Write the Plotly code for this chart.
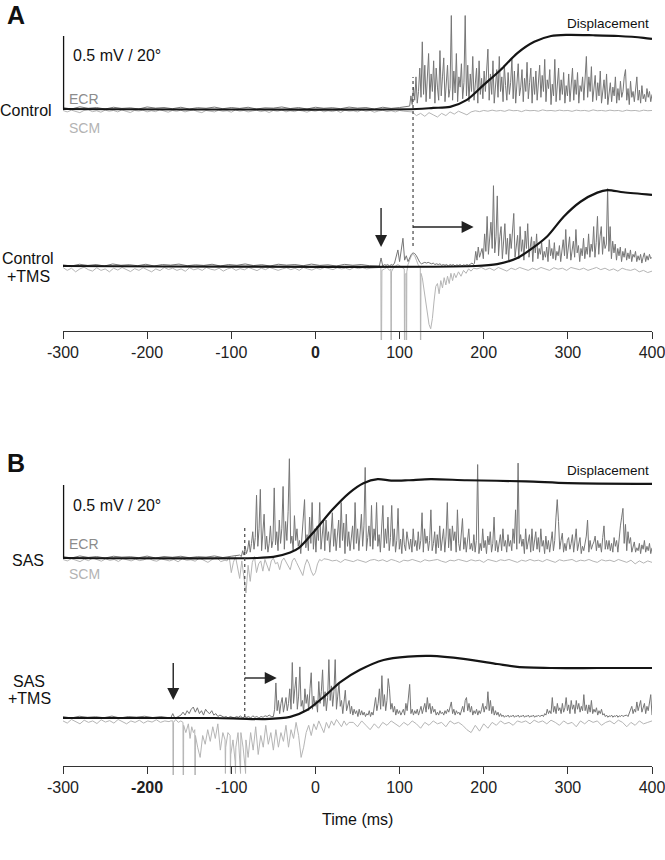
import numpy as np
import plotly.graph_objects as go

# ---------------- data (time in ms, EMG in mV, displacement in degrees) ----------------
tick_vals = [-300, -200, -100, 0, 100, 200, 300, 400]
tick_text_A = ["-300", "-200", "-100", "<b>0</b>", "100", "200", "300", "400"]
tick_text_B = ["-300", "<b>-200</b>", "-100", "0", "100", "200", "300", "400"]

# event times
onset_A = 116          # control EMG onset (dotted line)
tms_A = 78             # TMS pulse (down arrow)
shift_end_A = 188      # delayed onset after TMS (arrow tip)
onset_B = -84          # SAS EMG onset
tms_B = -169
shift_end_B = -46

# ---- Panel A, Control ----
ecr_ctrl_base = [0.01, 0.0, 0.015, 0.005, 0.01, 0.0, 0.012, 0.004, 0.008, 0.0, 0.014, 0.006, 0.01, 0.002,
                 0.012, 0.0, 0.009, 0.005, 0.013, 0.002, 0.01, 0.004, 0.012, 0.0, 0.008, 0.006, 0.014, 0.003,
                 0.01, 0.0, 0.012, 0.005, 0.009, 0.002, 0.013, 0.006, 0.01, 0.0, 0.012, 0.004, 0.01, 0.02]
ecr_ctrl_burst = [0.02, 0.09, 0.03, 0.15, 0.06, 0.22, 0.04, 0.12, 0.28, 0.08,
                  0.46, 0.10, 0.30, 0.05, 0.18, 0.38, 0.07, 0.24, 0.12, 0.33,
                  0.04, 0.28, 0.15, 0.06, 0.40, 0.09, 0.22, 0.35, 0.05, 0.19,
                  0.30, 0.08, 0.14, 0.64, 0.06, 0.26, 0.11, 0.38, 0.05, 0.22,
                  0.15, 0.31, 0.07, 0.18, 0.64, 0.09, 0.30, 0.05, 0.24, 0.12,
                  0.36, 0.06, 0.20, 0.28, 0.04, 0.33, 0.10, 0.21, 0.07, 0.26,
                  0.12, 0.30, 0.41, 0.06, 0.24, 0.10, 0.33, 0.04, 0.18, 0.27,
                  0.08, 0.36, 0.12, 0.22, 0.05, 0.30, 0.16, 0.06, 0.25, 0.10,
                  0.18, 0.34, 0.07, 0.26, 0.04, 0.20, 0.31, 0.09, 0.15, 0.27,
                  0.05, 0.21, 0.12, 0.32, 0.07, 0.18, 0.28, 0.04, 0.22, 0.10,
                  0.26, 0.06, 0.19, 0.30, 0.08, 0.23, 0.12, 0.34, 0.05, 0.20,
                  0.14, 0.27, 0.03, 0.17, 0.09, 0.34, 0.05, 0.15, 0.28, 0.06,
                  0.20, 0.10, 0.25, 0.04, 0.16, 0.09, 0.24, 0.05, 0.15, 0.28,
                  0.06, 0.20, 0.10, 0.25, 0.04, 0.16, 0.12, 0.22, 0.06, 0.18,
                  0.36, 0.08, 0.22, 0.12, 0.29, 0.05, 0.14, 0.23, 0.06, 0.18,
                  0.09, 0.26, 0.04, 0.13, 0.20, 0.07, 0.24, 0.03, 0.12, 0.18,
                  0.05, 0.15, 0.09, 0.22, 0.04, 0.14, 0.06, 0.19, 0.08, 0.12,
                  0.22, 0.27, 0.06, 0.14, 0.03, 0.19, 0.08, 0.12, 0.05, 0.17,
                  0.22, 0.06, 0.13, 0.04, 0.16, 0.07, 0.10, 0.05, 0.14, 0.08,
                  0.12, 0.05, 0.10]
scm_ctrl = [-0.01, -0.02, -0.008, -0.015, -0.025, -0.01, -0.005, -0.018, -0.012, -0.022, -0.008, -0.015, -0.01,
            -0.02, -0.006, -0.016, -0.024, -0.01, -0.014, -0.008, -0.02, -0.012, -0.018, -0.005, -0.015, -0.022,
            -0.01, -0.016, -0.008, -0.02, -0.012, -0.006, -0.018, -0.025, -0.01, -0.014, -0.02, -0.008, -0.016,
            -0.012, -0.022, -0.006, -0.015, -0.01, -0.02, -0.014, -0.008, -0.018, -0.012, -0.024, -0.01, -0.016,
            -0.006, -0.02, -0.012, -0.018, -0.008, -0.014, -0.022, -0.01, -0.016, -0.006, -0.02, -0.012, -0.018,
            -0.01, -0.024, -0.008, -0.015, -0.012, -0.02, -0.006, -0.016, -0.01, -0.022, -0.014, -0.008, -0.018,
            -0.012, -0.02, -0.01, -0.015, -0.02,
            -0.02, -0.045, -0.03, -0.05, -0.025, -0.04, -0.055, -0.03, -0.045, -0.02, -0.035, -0.015, -0.03,
            -0.04, -0.02, -0.012, -0.018, -0.01, -0.015, -0.008, -0.014, -0.01, -0.016, -0.006, -0.012, -0.01,
            -0.018, -0.008, -0.012, -0.01, -0.015, -0.006, -0.012, -0.01, -0.014, -0.008, -0.012, -0.01, -0.016,
            -0.008, -0.012, -0.01, -0.015, -0.006, -0.012, -0.01, -0.014, -0.008, -0.012, -0.01, -0.016, -0.008,
            -0.012, -0.01, -0.015, -0.008, -0.012, -0.01]
disp_ctrl_t = [-300, 120, 140, 160, 180, 200, 220, 240, 260, 280, 300, 330, 360, 390, 400]
disp_ctrl_deg = [0, 0, 0.3, 0.6, 2.5, 6.6, 10.7, 15.3, 18.4, 20.0, 20.3, 20.2, 20.0, 19.5, 19.2]

# ---- Panel A, Control + TMS ----
ecr_ctms_base = [0.008, 0.0, 0.012, 0.004, 0.01, 0.0, 0.014, 0.005, 0.009, 0.002, 0.012, 0.0, 0.01, 0.006,
                 0.013, 0.002, 0.008, 0.004, 0.012, 0.0, 0.01, 0.005, 0.014, 0.003, 0.009, 0.0, 0.012, 0.006,
                 0.01, 0.002, 0.013, 0.004, 0.008, 0.0, 0.011, 0.005, 0.01, 0.002, 0.0]
ecr_ctms_mep = [0.0, 0.055, 0.0, 0.01, 0.005, 0.01, 0.0, 0.01, 0.005, 0.02, 0.06, 0.11, 0.03, 0.10, 0.19,
                0.04, 0.07, 0.03, 0.06, 0.08, 0.09, 0.085, 0.07, 0.045, 0.025, 0.015, 0.02, 0.025, 0.02,
                0.025, 0.02, 0.015, 0.02, 0.01, 0.015, 0.01, 0.015, 0.005, 0.01, 0.005, 0.01, 0.0, 0.01,
                0.005, 0.01, 0.0, 0.008, 0.004, 0.01, 0.0, 0.008, 0.004, 0.01, 0.005, 0.012, 0.02, 0.01]
ecr_ctms_burst = [0.02, 0.10, 0.04, 0.13, 0.06, 0.09, 0.12, 0.05, 0.22, 0.10,
                  0.34, 0.08, 0.18, 0.30, 0.12, 0.55, 0.09, 0.20, 0.48, 0.07,
                  0.20, 0.27, 0.05, 0.15, 0.29, 0.08, 0.19, 0.04, 0.22, 0.12,
                  0.28, 0.36, 0.06, 0.14, 0.21, 0.05, 0.27, 0.10, 0.18, 0.04,
                  0.24, 0.12, 0.29, 0.06, 0.15, 0.20, 0.03, 0.17, 0.09, 0.22,
                  0.05, 0.12, 0.08, 0.16, 0.04, 0.10, 0.06, 0.13, 0.03, 0.18,
                  0.07, 0.12, 0.05, 0.16, 0.04, 0.10, 0.07, 0.14, 0.03, 0.11,
                  0.18, 0.07, 0.25, 0.05, 0.14, 0.20, 0.04, 0.11, 0.17, 0.06,
                  0.25, 0.09, 0.14, 0.03, 0.12, 0.07, 0.19, 0.05, 0.13, 0.08,
                  0.22, 0.06, 0.15, 0.10, 0.27, 0.06, 0.16, 0.34, 0.08, 0.20,
                  0.27, 0.08, 0.20, 0.12, 0.15, 0.53, 0.10, 0.27, 0.05, 0.17,
                  0.09, 0.15, 0.04, 0.12, 0.07, 0.13, 0.03, 0.10, 0.06, 0.12,
                  0.04, 0.09, 0.05, 0.11, 0.03, 0.08, 0.06, 0.10, 0.03, 0.07,
                  0.04, 0.08, 0.02, 0.06, 0.09, 0.03, 0.07, 0.04, 0.08, 0.05,
                  0.06]
scm_ctms_base = [-0.01, -0.03, -0.015, -0.04, -0.02, -0.008, -0.025, -0.035, -0.012, -0.03, -0.02, -0.04,
                 -0.015, -0.028, -0.01, -0.022, -0.038, -0.018, -0.03, -0.012, -0.025, -0.04, -0.02, -0.032,
                 -0.01, -0.024, -0.015, -0.03, -0.02, -0.036, -0.012, -0.026, -0.018, -0.03, -0.01, -0.022,
                 -0.028, -0.015, -0.035, -0.02, -0.012, -0.03, -0.018, -0.026, -0.01, -0.02, -0.032, -0.015,
                 -0.025, -0.01, -0.018, -0.03, -0.02, -0.012, -0.025, -0.015, -0.03, -0.01, -0.02, -0.028,
                 -0.015, -0.022, -0.01, -0.018, -0.025, -0.012, -0.02, -0.015, -0.025, -0.01, -0.018, -0.012,
                 -0.02, -0.015, -0.01, -0.01]
scm_ctms_art_t = [77, 77.8, 78.2, 79, 82, 85, 88, 89.6, 90, 90.4, 92, 95, 98, 101, 104, 105.6, 106, 106.4,
                  107.8, 108.2, 108.6, 110, 112, 114, 116, 118, 120, 122, 124.6, 125, 125.4, 127, 129, 131,
                  133, 135, 137, 139, 141, 143, 145, 147, 149, 151, 153, 155, 157, 159, 161, 163, 165, 167,
                  170, 173, 176, 179, 182, 185, 188]
scm_ctms_art_mv = [-0.01, -0.01, -1.0, -0.03, -0.02, -0.01, -0.03, -0.02, -1.0, -0.04, -0.02, 0.0, 0.01,
                   0.0, -0.01, -0.02, -1.0, -0.06, -0.05, -1.0, -0.04, 0.01, 0.04, 0.07, 0.08, 0.07, 0.04,
                   0.01, -0.01, -1.0, -0.05, -0.08, -0.16, -0.26, -0.34, -0.40, -0.43, -0.36, -0.24, -0.14,
                   -0.12, -0.19, -0.10, -0.15, -0.08, -0.13, -0.07, -0.12, -0.05, -0.10, -0.05, -0.08, -0.04,
                   -0.07, -0.03, -0.05, -0.02, -0.035, -0.015]
scm_ctms_post = [-0.02, -0.01, -0.025, -0.015, -0.03, -0.01, -0.02, -0.035, -0.015, -0.025, -0.01, -0.02,
                 -0.03, -0.015, -0.025, -0.01, -0.02, -0.03, -0.012, -0.022, -0.015, -0.03, -0.01, -0.02,
                 -0.025, -0.015, -0.03, -0.02, -0.01, -0.025, -0.015, -0.03, -0.02, -0.035, -0.015, -0.025,
                 -0.03, -0.02, -0.04, -0.03, -0.045, -0.035]
disp_ctms_t = [-300, 190, 216, 240, 255, 275, 295, 315, 335, 347, 366, 400]
disp_ctms_deg = [0, 0, 0.5, 2.2, 4.4, 8.0, 13.5, 17.6, 20.1, 20.8, 20.2, 19.5]

# ---- Panel B, SAS ----
ecr_sas_base = [0.01, 0.0, 0.014, 0.004, 0.01, 0.0, 0.012, 0.006, 0.009, 0.002, 0.013, 0.0, 0.01, 0.005,
                0.012, 0.002, 0.009, 0.006, 0.014, 0.003, 0.012, 0.02]
ecr_sas_burst = [0.01, 0.05, 0.02, 0.08, 0.03, 0.06, 0.12, 0.04, 0.10, 0.18,
                 0.06, 0.14, 0.43, 0.08, 0.20, 0.47, 0.05, 0.15, 0.30, 0.06,
                 0.15, 0.04, 0.10, 0.22, 0.07, 0.12, 0.48, 0.09, 0.18, 0.05,
                 0.26, 0.10, 0.20, 0.49, 0.06, 0.25, 0.12, 0.32, 0.68, 0.10,
                 0.15, 0.05, 0.29, 0.12, 0.20, 0.08, 0.12, 0.03, 0.18, 0.25,
                 0.40, 0.07, 0.16, 0.05, 0.28, 0.10, 0.38, 0.06, 0.20, 0.04,
                 0.22, 0.12, 0.38, 0.06, 0.14, 0.25, 0.05, 0.26, 0.12, 0.18,
                 0.04, 0.15, 0.31, 0.08, 0.20, 0.05, 0.16, 0.26, 0.07, 0.38,
                 0.12, 0.24, 0.03, 0.30, 0.08, 0.18, 0.05, 0.14, 0.22, 0.06,
                 0.38, 0.10, 0.20, 0.05, 0.16, 0.30, 0.08, 0.22, 0.62, 0.05,
                 0.14, 0.22, 0.08, 0.36, 0.06, 0.20, 0.12, 0.38, 0.08, 0.16,
                 0.04, 0.20, 0.36, 0.07, 0.20, 0.10, 0.28, 0.05, 0.14, 0.36,
                 0.08, 0.20, 0.04, 0.12, 0.34, 0.06, 0.13, 0.03, 0.20, 0.09,
                 0.05, 0.18, 0.10, 0.06, 0.13, 0.04, 0.20, 0.08, 0.12, 0.05,
                 0.18, 0.06, 0.12, 0.31, 0.04, 0.20, 0.10, 0.15, 0.05, 0.12,
                 0.33, 0.05, 0.10, 0.18, 0.03, 0.16, 0.07, 0.22, 0.05, 0.13,
                 0.20, 0.04, 0.15, 0.38, 0.07, 0.20, 0.05, 0.22, 0.12, 0.18,
                 0.04, 0.33, 0.10, 0.05, 0.15, 0.27, 0.06, 0.14, 0.04, 0.12,
                 0.20, 0.06, 0.10, 0.05, 0.16, 0.04, 0.12, 0.64, 0.03, 0.10,
                 0.05, 0.20, 0.07, 0.12, 0.03, 0.15, 0.09, 0.18, 0.04, 0.10,
                 0.28, 0.05, 0.12, 0.04, 0.10, 0.16, 0.05, 0.20, 0.08, 0.12,
                 0.04, 0.16, 0.08, 0.12, 0.05, 0.20, 0.10, 0.33, 0.06, 0.65,
                 0.10, 0.16, 0.08, 0.13, 0.03, 0.20, 0.06, 0.11, 0.16, 0.04,
                 0.20, 0.05, 0.10, 0.18, 0.06, 0.14, 0.04, 0.20, 0.08, 0.12,
                 0.03, 0.15, 0.06, 0.12, 0.04, 0.10, 0.18, 0.05, 0.12, 0.28,
                 0.40, 0.25, 0.06, 0.12, 0.17, 0.04, 0.10, 0.05, 0.12, 0.14,
                 0.06, 0.10, 0.16, 0.04, 0.12, 0.20, 0.05, 0.09, 0.14, 0.03,
                 0.08, 0.05, 0.10, 0.15, 0.26, 0.04, 0.12, 0.06, 0.09, 0.11,
                 0.15, 0.05, 0.12, 0.07, 0.10, 0.04, 0.14, 0.22, 0.06, 0.12,
                 0.06, 0.12, 0.05, 0.10, 0.04, 0.14, 0.08, 0.12, 0.04, 0.15,
                 0.22, 0.28, 0.34, 0.10, 0.23, 0.05, 0.18, 0.10, 0.14, 0.04,
                 0.08, 0.11, 0.04, 0.07, 0.05, 0.10, 0.03, 0.09, 0.06, 0.12,
                 0.04, 0.08, 0.05, 0.10, 0.03, 0.07]
scm_sas_base = [-0.01, -0.02, -0.005, -0.015, -0.025, -0.008, -0.018, 0.0, -0.012, -0.022, -0.006, -0.016,
                -0.01, -0.024, -0.004, -0.014, -0.02, -0.008, -0.018, -0.012, 0.002, -0.016, -0.022, -0.006,
                -0.014, -0.02, -0.01, -0.026, -0.004, -0.016, -0.012, -0.022, 0.0, -0.018, -0.03, -0.01,
                0.005, -0.025, -0.015]
scm_sas_startle = [-0.02, 0.01, -0.10, -0.03, 0.01, -0.08, -0.14, -0.02, -0.12, -0.24, -0.05, -0.16, -0.03,
                   0.01, -0.10, -0.04, -0.02, -0.09, -0.01, -0.05, -0.09, -0.02, 0.0, -0.04, -0.03, -0.08,
                   -0.02, 0.0, -0.03, -0.06, -0.08, -0.02, 0.0, -0.03, -0.06, -0.10, -0.12, -0.05, -0.01,
                   -0.04, -0.09, -0.12, -0.10, -0.04, -0.01, -0.02, -0.005]
scm_sas_post = [-0.01, -0.02, -0.015, -0.03, -0.01, -0.02, -0.025, -0.012, -0.02, -0.03, -0.015, -0.01,
                -0.02, -0.012, -0.025, -0.01, -0.018, -0.03, -0.015, -0.02, -0.01, -0.02, -0.028, -0.012,
                -0.02, -0.015, -0.01, -0.022, -0.03, -0.015, -0.02, -0.01, -0.018, -0.025, -0.012, -0.02,
                -0.015, -0.03, -0.01, -0.02, -0.025, -0.012, -0.018, -0.01, -0.02, -0.03, -0.015, -0.022,
                -0.01, -0.02, -0.015, -0.025, -0.01, -0.018, -0.03, -0.012, -0.02, -0.015, -0.01, -0.025,
                -0.015, -0.02, -0.01, -0.022, -0.03, -0.012, -0.02, -0.015, -0.025, -0.01, -0.02, -0.03,
                -0.015, -0.04, -0.02, -0.035, -0.02, -0.03]
disp_sas_t = [-300, -70, -50, -30, -20, 0, 20, 40, 57, 74, 90, 110, 137, 180, 250, 300, 400]
disp_sas_deg = [0, 0, 0.3, 1.5, 2.7, 7.7, 13.2, 17.8, 20.5, 21.6, 21.2, 21.3, 21.6, 21.3, 21.0, 20.5, 20.3]

# ---- Panel B, SAS + TMS ----
ecr_stms_base = [0.01, 0.0, 0.012, 0.005, 0.009, 0.002, 0.013, 0.0, 0.01, 0.006, 0.012, 0.003, 0.01, 0.0]
ecr_stms_mep = [0.0, 0.03, 0.0, 0.005, 0.01, 0.02, 0.04, 0.02, 0.05, 0.03, 0.06, 0.075, 0.04, 0.07, 0.03,
                0.05, 0.02, 0.06, 0.04, 0.03, 0.05, 0.02, 0.03, 0.01, 0.02, 0.01, 0.005, 0.01, 0.0, 0.01,
                0.005, 0.0, 0.01, 0.005, 0.015, 0.0, 0.01, 0.005, 0.01, 0.0, 0.015, 0.005, 0.01, 0.0, 0.01,
                0.005, 0.015, 0.01, 0.02, 0.01]
ecr_stms_burst = [0.01, 0.06, 0.24, 0.05, 0.12, 0.03, 0.10, 0.14, 0.04, 0.08,
                  0.14, 0.05, 0.10, 0.20, 0.06, 0.38, 0.10, 0.20, 0.28, 0.06,
                  0.15, 0.35, 0.08, 0.12, 0.04, 0.20, 0.10, 0.16, 0.05, 0.20,
                  0.31, 0.06, 0.15, 0.08, 0.12, 0.04, 0.25, 0.10, 0.18, 0.33,
                  0.08, 0.18, 0.05, 0.14, 0.40, 0.12, 0.22, 0.08, 0.18, 0.40,
                  0.06, 0.15, 0.24, 0.08, 0.12, 0.03, 0.10, 0.19, 0.05, 0.08,
                  0.12, 0.03, 0.08, 0.02, 0.06, 0.03, 0.05, 0.01, 0.06, 0.02,
                  0.05, 0.02, 0.04, 0.01, 0.03, 0.02, 0.05, 0.01, 0.04, 0.02,
                  0.07, 0.14, 0.05, 0.10, 0.20, 0.06, 0.29, 0.08, 0.16, 0.05,
                  0.12, 0.27, 0.20, 0.06, 0.10, 0.04, 0.08, 0.02, 0.06, 0.03,
                  0.05, 0.02, 0.04, 0.06, 0.02, 0.10, 0.05, 0.15, 0.23, 0.03,
                  0.06, 0.02, 0.05, 0.03, 0.06, 0.02, 0.05, 0.08, 0.03, 0.06,
                  0.10, 0.04, 0.14, 0.06, 0.10, 0.03, 0.08, 0.04, 0.06, 0.02,
                  0.04, 0.02, 0.05, 0.03, 0.04, 0.02, 0.05, 0.03, 0.06, 0.04,
                  0.07, 0.11, 0.03, 0.06, 0.02, 0.05, 0.03, 0.04, 0.02, 0.05,
                  0.08, 0.04, 0.12, 0.14, 0.05, 0.10, 0.04, 0.08, 0.02, 0.05,
                  0.03, 0.06, 0.02, 0.05, 0.03, 0.06, 0.10, 0.04, 0.08, 0.06,
                  0.18, 0.05, 0.12, 0.03, 0.08, 0.02, 0.05, 0.02, 0.04, 0.01,
                  0.03, 0.01, 0.02, 0.005, 0.015, 0.01, 0.02, 0.005, 0.015, 0.01,
                  0.02, 0.005, 0.015, 0.01, 0.02, 0.005, 0.015, 0.01, 0.02, 0.005,
                  0.015, 0.01, 0.02, 0.005, 0.015, 0.01, 0.02, 0.005, 0.015, 0.01,
                  0.02, 0.01, 0.015, 0.02, 0.01, 0.03, 0.02, 0.06, 0.03, 0.05,
                  0.03, 0.14, 0.04, 0.08, 0.03, 0.10, 0.05, 0.07, 0.03, 0.10,
                  0.04, 0.07, 0.14, 0.05, 0.09, 0.03, 0.12, 0.06, 0.09, 0.03,
                  0.12, 0.06, 0.10, 0.04, 0.08, 0.05, 0.16, 0.05, 0.09, 0.03,
                  0.09, 0.04, 0.12, 0.03, 0.06, 0.04, 0.07, 0.02, 0.05, 0.03,
                  0.06, 0.02, 0.03, 0.01, 0.02, 0.005, 0.015, 0.01, 0.02, 0.005,
                  0.015, 0.01, 0.02, 0.005, 0.015, 0.01, 0.02, 0.01, 0.015, 0.02,
                  0.02, 0.01, 0.03, 0.05, 0.08, 0.03, 0.06, 0.04, 0.11, 0.05,
                  0.08, 0.12, 0.04, 0.07, 0.10, 0.03, 0.08, 0.05, 0.12, 0.16,
                  0.02]
scm_stms_base = [-0.02, -0.035, -0.01, -0.025, -0.04, -0.015, -0.03, -0.02, -0.038, -0.012, -0.028, -0.018,
                 -0.035, -0.01, -0.025, -0.04, -0.02, -0.03, -0.015, -0.035, -0.02, -0.028, -0.012, -0.03,
                 -0.02, -0.025]
scm_stms_art_t = [-172, -169.4, -169, -168.6, -166, -163, -160, -157.4, -157, -156.6, -154, -151, -149, -147,
                  -145, -143.4, -143, -142.6, -140, -137, -134, -131, -128, -125, -122, -119, -116, -113,
                  -110, -107.4, -107, -106.6, -104, -101.4, -101, -100.6, -98, -95.4, -95, -94.6, -92, -89.4,
                  -89, -88.6, -86, -83.4, -83, -82.6, -80, -77, -74, -71, -68, -65, -62, -59, -56, -53, -50,
                  -47, -44, -41, -38, -35, -32, -29, -26, -23, -20, -17, -14, -11, -8, -5, -2, 1, 4, 7, 10,
                  13, 16, 19, 22, 25, 28, 31, 34, 37, 40]
scm_stms_art_mv = [-0.02, -0.02, -1.0, -0.03, -0.01, -0.03, -0.02, -0.03, -1.0, -0.05, -0.10, -0.04, -0.14,
                   -0.06, -0.10, -0.08, -0.70, -0.12, -0.20, -0.27, -0.12, -0.18, -0.08, -0.16, -0.06, -0.14,
                   -0.04, -0.22, -0.10, -0.15, -0.38, -0.20, -0.10, -0.12, -0.38, -0.25, -0.15, -0.30, -0.38,
                   -0.20, -0.10, -0.30, -0.38, -0.10, -0.20, -0.35, -0.38, -0.15, -0.27, -0.10, -0.22, -0.06,
                   -0.25, -0.12, -0.20, -0.05, -0.18, -0.10, -0.22, -0.08, -0.20, -0.10, -0.16, -0.05, -0.20,
                   -0.08, -0.14, -0.03, -0.12, -0.27, -0.20, -0.10, -0.05, -0.12, -0.04, -0.08, -0.02, -0.06,
                   -0.10, -0.03, -0.07, -0.02, -0.05, -0.01, -0.04, -0.06, -0.02, -0.05, -0.03]
scm_stms_post = [-0.03, -0.06, -0.02, -0.05, -0.08, -0.04, -0.07, -0.03, -0.05, -0.02, -0.04, -0.06, -0.03,
                 -0.05, -0.02, -0.04, -0.07, -0.03, -0.05, -0.02, -0.04, -0.03, -0.06, -0.02, -0.04, -0.03,
                 -0.05, -0.08, -0.10, -0.05, -0.09, -0.04, -0.07, -0.03, -0.05, -0.02, -0.04, -0.03, -0.05,
                 -0.02, -0.03, -0.02, -0.04, -0.015, -0.03, -0.02, -0.04, -0.015, -0.03, -0.05, -0.02, -0.04,
                 -0.03, -0.06, -0.02, -0.04, -0.015, -0.03, -0.02, -0.05, -0.03, -0.02, -0.04, -0.015, -0.03,
                 -0.06, -0.03, -0.05, -0.02, -0.04, -0.03, -0.02]
disp_stms_t = [-300, -120, -90, -60, -30, -10, 10, 30, 53, 81, 110, 137, 176, 216, 240, 280, 335, 400]
disp_stms_deg = [0, 0, -0.15, -0.3, 0.3, 2.2, 5.8, 9.9, 13.2, 15.9, 16.8, 17.0, 16.2, 14.8, 14.0, 13.7, 13.7, 13.7]

# ---------------- layout constants (pixels) ----------------
W, H = 665, 860
L, R = 63, 13
PXMS = (W - L - R) / 700.0          # px per ms
K = 146.0                           # px per mV  (0.5 mV bar = 73 px)
DEG = K * 0.5 / 20.0                # px per degree (20 deg = 0.5 mV bar)
AX_A, AX_B = 331, 766               # axis line pixel rows
ROW = {"ctrl": 222, "ctms": 65, "sas": 208, "stms": 48}   # baseline height above axis line (px)

ECR_C, SCM_C, DISP_C = "#767676", "#b5b5b5", "#151515"
FONT = "Liberation Sans, Arial, Helvetica, sans-serif"


def py(p):
    return 1 - p / H


def pxp(x):
    return (x - L) / (W - L - R)


def seg(t0, t1, vals):
    return list(np.linspace(t0, t1, len(vals))), list(vals)


def cat(*parts):
    t, v = [], []
    for a, b in parts:
        n = min(len(a), len(b))
        t += list(a[:n])
        v += list(b[:n])
    return np.array(t, float), np.array(v, float)


fig = go.Figure()


def line(xa, ya, t, v, color, width, off, scale, shape="linear"):
    fig.add_trace(go.Scatter(x=t, y=off + np.asarray(v) * scale, mode="lines",
                             line=dict(color=color, width=width, shape=shape, smoothing=0.8),
                             xaxis=xa, yaxis=ya, hoverinfo="skip", showlegend=False))


# Panel A control
t, v = cat(seg(-300, 115, scm_ctrl[:84]), seg(120, 400, scm_ctrl[84:]))
line("x", "y", t, v, SCM_C, 1, ROW["ctrl"], K)
t, v = cat(seg(-300, 110, ecr_ctrl_base), seg(112, 400, ecr_ctrl_burst))
line("x", "y", t, v, ECR_C, 1, ROW["ctrl"], K)
line("x", "y", disp_ctrl_t, disp_ctrl_deg, DISP_C, 2.2, ROW["ctrl"], DEG, "spline")

# Panel A control + TMS
t, v = cat(seg(-300, 76, scm_ctms_base), (scm_ctms_art_t, scm_ctms_art_mv), seg(192, 400, scm_ctms_post))
line("x", "y", t, v, SCM_C, 1, ROW["ctms"], K)
t, v = cat(seg(-300, 74, ecr_ctms_base), seg(76, 188, ecr_ctms_mep), seg(189, 400, ecr_ctms_burst))
line("x", "y", t, v, ECR_C, 1, ROW["ctms"], K)
line("x", "y", disp_ctms_t, disp_ctms_deg, DISP_C, 2.2, ROW["ctms"], DEG, "spline")

# Panel B SAS
t, v = cat(seg(-300, -107.5, scm_sas_base), seg(-105, 10, scm_sas_startle), seg(15, 400, scm_sas_post))
line("x2", "y2", t, v, SCM_C, 1, ROW["sas"], K)
t, v = cat(seg(-300, -90, ecr_sas_base), seg(-88, 400, ecr_sas_burst))
line("x2", "y2", t, v, ECR_C, 1, ROW["sas"], K)
line("x2", "y2", disp_sas_t, disp_sas_deg, DISP_C, 2.2, ROW["sas"], DEG, "spline")

# Panel B SAS + TMS
t, v = cat(seg(-300, -174, scm_stms_base), (scm_stms_art_t, scm_stms_art_mv), seg(45, 400, scm_stms_post))
line("x2", "y2", t, v, SCM_C, 1, ROW["stms"], K)
t, v = cat(seg(-300, -174, ecr_stms_base), seg(-172, -52.5, ecr_stms_mep), seg(-50, 400, ecr_stms_burst))
line("x2", "y2", t, v, ECR_C, 1, ROW["stms"], K)
line("x2", "y2", disp_stms_t, disp_stms_deg, DISP_C, 2.2, ROW["stms"], DEG, "spline")

# ---------------- axes ----------------
yr = [-9, 326]
axis_common = dict(range=[-300, 400], tickmode="array", tickvals=tick_vals, ticks="outside", ticklen=7,
                   tickwidth=1, tickcolor="#333", showline=True, linecolor="#333", linewidth=1,
                   showgrid=False, zeroline=False, tickfont=dict(family=FONT, size=16, color="#222"),
                   anchor="free", automargin=False, fixedrange=True, ticklabeloverflow="allow")
fig.update_layout(
    xaxis=dict(axis_common, ticktext=tick_text_A, position=py(AX_A), domain=[0, 1]),
    yaxis=dict(range=yr, domain=[py(AX_A + 9), py(AX_A - 326)], visible=False, fixedrange=True),
    xaxis2=dict(axis_common, ticktext=tick_text_B, position=py(AX_B), domain=[0, 1]),
    yaxis2=dict(range=yr, domain=[py(AX_B + 9), py(AX_B - 326)], visible=False, fixedrange=True),
    width=W, height=H, margin=dict(l=L, r=R, t=0, b=0),
    paper_bgcolor="white", plot_bgcolor="white", showlegend=False,
)

# ---------------- shapes: scale bars, onset lines, arrows ----------------
shapes = []
hw = 6 / PXMS     # arrow head half-width in ms
for xr, yr_, off in (("x", "y", ROW["ctrl"]), ("x2", "y2", ROW["sas"])):
    shapes.append(dict(type="line", xref="paper", yref=yr_, x0=0.001, x1=0.001, y0=off, y1=off + 0.5 * K,
                       line=dict(color="#111", width=1.3)))

# dotted onset lines
shapes.append(dict(type="line", xref="x", yref="y", x0=onset_A, x1=onset_A, y0=AX_A - 246, y1=AX_A - 77,
                   line=dict(color="#444", width=1.2, dash="dot")))
shapes.append(dict(type="line", xref="x2", yref="y2", x0=onset_B, x1=onset_B, y0=AX_B - 717, y1=AX_B - 528,
                   line=dict(color="#444", width=1.2, dash="dot")))


def down_arrow(xr, yr_, t0, ytop, ytip):
    shapes.append(dict(type="line", xref=xr, yref=yr_, x0=t0, x1=t0, y0=ytop, y1=ytip + 10,
                       line=dict(color="#222", width=1.4)))
    shapes.append(dict(type="path", xref=xr, yref=yr_, fillcolor="#222", line=dict(width=0),
                       path=f"M {t0 - hw},{ytip + 12} L {t0 + hw},{ytip + 12} L {t0},{ytip} Z"))


def right_arrow(xr, yr_, t0, t1, yy):
    tb = t1 - 12 / PXMS
    shapes.append(dict(type="line", xref=xr, yref=yr_, x0=t0, x1=tb + 1, y0=yy, y1=yy,
                       line=dict(color="#222", width=1.4)))
    shapes.append(dict(type="path", xref=xr, yref=yr_, fillcolor="#222", line=dict(width=0),
                       path=f"M {tb},{yy - 6} L {tb},{yy + 6} L {t1},{yy} Z"))


down_arrow("x", "y", tms_A, AX_A - 208, AX_A - 247)
right_arrow("x", "y", onset_A, shift_end_A, AX_A - 227)
down_arrow("x2", "y2", tms_B, AX_B - 663, AX_B - 700)
right_arrow("x2", "y2", onset_B, shift_end_B, AX_B - 678)
fig.update_layout(shapes=shapes)

# ---------------- text ----------------
ann = []


def txt(text, x, y, size=16, color="#111", xanchor="center", bold=False):
    ann.append(dict(text=f"<b>{text}</b>" if bold else text, x=pxp(x), y=py(y), xref="paper", yref="paper",
                    showarrow=False, xanchor=xanchor, yanchor="middle",
                    font=dict(family=FONT, size=size, color=color)))


txt("A", 16, 15, 25, "#111", bold=True)
txt("B", 16, 463, 25, "#111", bold=True)
txt("0.5 mV / 20°", 71, 55, 16, "#111", "left")
txt("0.5 mV / 20°", 71, 505, 16, "#111", "left")
txt("ECR", 67, 99, 14, "#8c8c8c", "left")
txt("SCM", 67, 128, 14, "#b3b3b3", "left")
txt("ECR", 67, 544, 14, "#8c8c8c", "left")
txt("SCM", 67, 574, 14, "#b3b3b3", "left")
txt("Control", 54, 110, 16, "#111", "right")
txt("Control", 28, 259, 16)
txt("+TMS", 28, 276, 16)
txt("SAS", 28, 560, 16)
txt("SAS", 29, 681, 16)
txt("+TMS", 29, 698, 16)
txt("Displacement", 651, 23, 13.5, "#111", "right")
txt("Displacement", 651, 470, 13.5, "#111", "right")
txt("Time (ms)", 357, 819, 16)
fig.update_layout(annotations=ann)

fig.write_html("out.html", config={"displayModeBar": False},
               post_script="document.body.style.margin='0px';document.body.style.padding='0px';")
